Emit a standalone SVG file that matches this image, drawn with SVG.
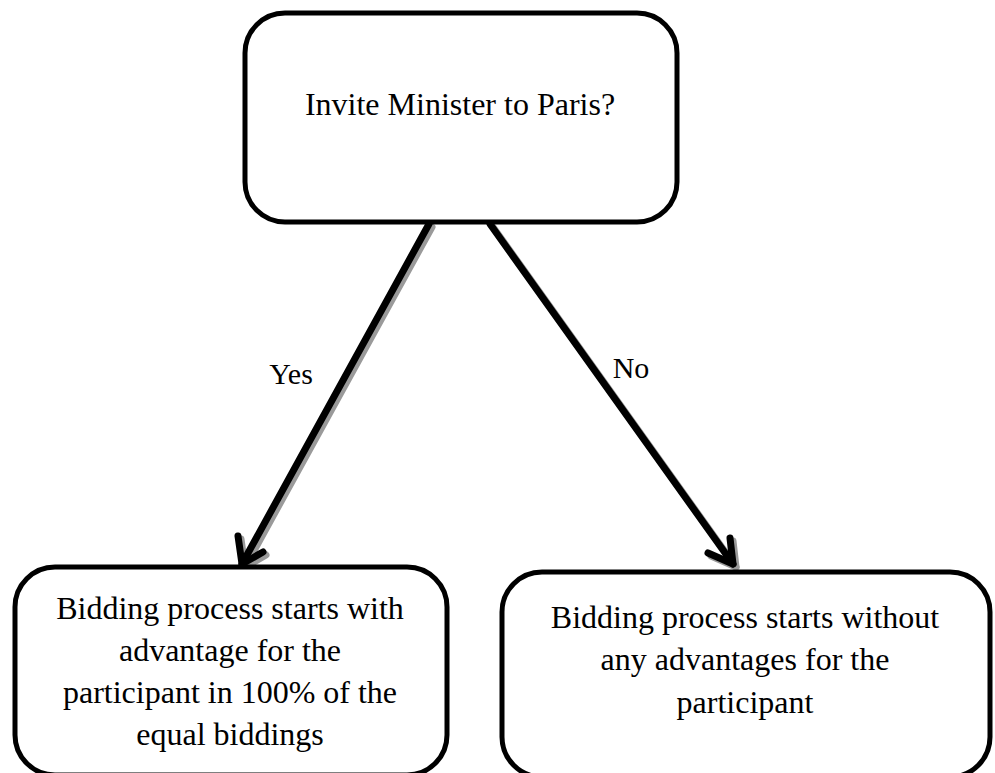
<svg xmlns="http://www.w3.org/2000/svg" width="995" height="773" viewBox="0 0 995 773">
<style>
.box{fill:#fff;stroke:#000;stroke-width:5}
.t{font-family:"Liberation Serif","Times New Roman",serif;font-size:32px;fill:#000;text-anchor:middle}
.lbl{font-family:"Liberation Serif","Times New Roman",serif;font-size:30px;fill:#000;text-anchor:middle}
.arr{fill:none;stroke:#000;stroke-width:7;stroke-linecap:round;stroke-linejoin:round}
.shd{fill:none;stroke:#9a9a9a;stroke-width:7;stroke-linecap:round;stroke-linejoin:round}
</style>
<rect width="995" height="773" fill="#fff"/>
<g id="connectors">
  <g transform="translate(3,3)">
    <path class="shd" d="M429,224 L242,564"/>
    <path class="shd" d="M238,536 L242,564 L263,552"/>
    <path class="shd" d="M490,224 L733,564"/>
    <path class="shd" d="M730,538 L733,564 L708,553"/>
  </g>
  <path class="arr" d="M429,224 L242,564"/>
  <path class="arr" d="M238,536 L242,564 L263,552"/>
  <path class="arr" d="M490,224 L733,564"/>
  <path class="arr" d="M730,538 L733,564 L708,553"/>
  <text class="lbl" x="291" y="384">Yes</text>
  <text class="lbl" x="631" y="378">No</text>
</g>
<g id="node-question">
  <rect class="box" x="245" y="13" width="432" height="209" rx="40" ry="40"/>
  <text class="t" x="460" y="115">Invite Minister to Paris?</text>
</g>
<g id="node-yes">
  <rect class="box" x="15" y="567" width="432" height="208" rx="40" ry="40"/>
  <text class="t" x="230" y="619">Bidding process starts with</text>
  <text class="t" x="230" y="661">advantage for the</text>
  <text class="t" x="230" y="703">participant in 100% of the</text>
  <text class="t" x="230" y="745">equal biddings</text>
</g>
<g id="node-no">
  <rect class="box" x="502" y="572" width="488" height="205" rx="40" ry="40"/>
  <text class="t" x="745" y="628">Bidding process starts without</text>
  <text class="t" x="745" y="670">any advantages for the</text>
  <text class="t" x="745" y="713">participant</text>
</g>
</svg>
